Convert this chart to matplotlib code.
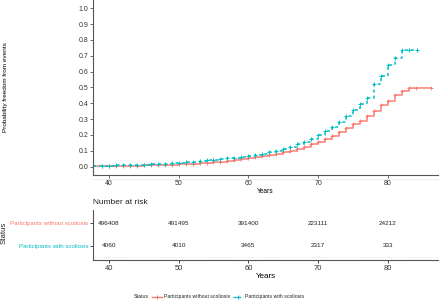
import matplotlib
matplotlib.use("Agg")
import matplotlib.pyplot as plt
from matplotlib.lines import Line2D

# ---- data ----
red_times = [37.8, 39, 40, 41, 42, 43, 44, 45, 46, 47, 48, 49, 50, 51, 52, 53, 54, 55, 56, 57,
             58, 59, 60, 61, 62, 63, 64, 65, 66, 67, 68, 69, 70, 71, 72, 73, 74, 75, 76, 77,
             78, 79, 80, 81, 82, 83, 84, 86.1]
red_vals = [0.001, 0.002, 0.003, 0.003, 0.004, 0.005, 0.006, 0.007, 0.008, 0.009, 0.011, 0.013,
            0.015, 0.017, 0.019, 0.022, 0.025, 0.028, 0.032, 0.036, 0.041, 0.046, 0.052, 0.058,
            0.065, 0.072, 0.081, 0.090, 0.101, 0.113, 0.126, 0.141, 0.157, 0.175, 0.195, 0.218,
            0.242, 0.266, 0.291, 0.322, 0.354, 0.386, 0.417, 0.452, 0.476, 0.495, 0.495, 0.495]

cyan_times = [37.8, 39, 40, 41, 42, 43, 44, 45, 46, 47, 48, 49, 50, 51, 52, 53, 54, 55, 56, 57,
              58, 59, 60, 61, 62, 63, 64, 65, 66, 67, 68, 69, 70, 71, 72, 73, 74, 75, 76, 77,
              78, 79, 80, 81, 82, 83, 84.1]
cyan_vals = [0.004, 0.005, 0.006, 0.007, 0.008, 0.009, 0.010, 0.012, 0.014, 0.016, 0.018, 0.021,
             0.024, 0.028, 0.032, 0.035, 0.039, 0.043, 0.047, 0.052, 0.057, 0.063, 0.069, 0.075,
             0.082, 0.090, 0.099, 0.110, 0.124, 0.140, 0.157, 0.176, 0.197, 0.224, 0.252, 0.279,
             0.320, 0.358, 0.394, 0.434, 0.522, 0.570, 0.641, 0.683, 0.738, 0.738, 0.738]

risk_years = [40, 50, 60, 70, 80]
risk_without = ["496408", "491495", "391400", "223111", "24212"]
risk_with = ["4060", "4010", "3465", "2317", "333"]

group_labels = ["Participants without scoliosis", "Participants with scoliosis"]
colors = ["#F8766D", "#00BFC4"]
y_ticks = [0.0, 0.1, 0.2, 0.3, 0.4, 0.5, 0.6, 0.7, 0.8, 0.9, 1.0]

plt.rcParams['font.family'] = ['Liberation Sans', 'DejaVu Sans']

fig = plt.figure(figsize=(4.4, 3.0), dpi=100)
W, H = 440.0, 300.0

# ---- main survival axes ----
ax = fig.add_axes([93/W, 1 - 175/H, 345/W, 175/H])
ax.step(red_times, red_vals, where='post', color=colors[0], lw=1.2, alpha=0.85)
ax.plot(red_times, red_vals, ls='none', marker='+', color=colors[0], ms=3.5, mew=0.7, alpha=0.85)
ax.step(cyan_times, cyan_vals, where='post', color=colors[1], lw=1.1, ls=(0, (2, 2)))
ax.plot(cyan_times, cyan_vals, ls='none', marker='+', color=colors[1], ms=3.5, mew=0.7)

ax.set_xlim(37.74, 87.16)
ax.set_ylim(-0.053, 1.052)
ax.set_xticks(risk_years)
ax.set_yticks(y_ticks)
ax.set_yticklabels([f"{v:.1f}" for v in y_ticks])
ax.tick_params(labelsize=5.0, length=2, width=0.5, pad=1.5, colors='#333333', labelcolor='#333333')
for s in ['top', 'right']:
    ax.spines[s].set_visible(False)
for s in ['left', 'bottom']:
    ax.spines[s].set_linewidth(0.8)
    ax.spines[s].set_color('#555555')
ax.set_xlabel("Years", fontsize=4.8, labelpad=1)
ax.yaxis.set_label_coords(-85/345, 0.5)
ax.set_ylabel("Probability freedom from events", fontsize=4.6)
# light dotted line just below the axis
ax.add_line(Line2D([0, 1], [-0.025, -0.025], transform=ax.transAxes, color='#cccccc',
                   lw=0.6, ls=(0, (1, 1.5)), clip_on=False))

# ---- risk table axes ----
tab = fig.add_axes([93/W, 40/H, 345/W, 50/H])
tab.set_xlim(37.74, 87.16)
tab.set_ylim(0.38, 2.59)
for x, a, b in zip(risk_years, risk_without, risk_with):
    tab.text(x, 2, a, ha='center', va='center', fontsize=4.6, color='#222222')
    tab.text(x, 1, b, ha='center', va='center', fontsize=4.6, color='#222222')
tab.set_xticks(risk_years)
tab.set_yticks([2, 1])
tab.set_yticklabels(group_labels)
for lab, c in zip(tab.get_yticklabels(), colors):
    lab.set_color(c)
tab.tick_params(axis='y', labelsize=4.4, length=2, width=0.5, pad=1.5)
tab.tick_params(axis='x', labelsize=5.4, length=2, width=0.5, pad=1.5, labelcolor='#333333')
for s in ['top', 'right']:
    tab.spines[s].set_visible(False)
for s in ['left', 'bottom']:
    tab.spines[s].set_linewidth(0.8)
    tab.spines[s].set_color('#555555')
tab.add_line(Line2D([0, 1], [0.06, 0.06], transform=tab.transAxes, color='#dddddd',
                    lw=0.6, ls=(0, (1, 1.5))))
tab.set_xlabel("Years", fontsize=5.8, labelpad=1)
fig.text(93/W, 1 - 203/H, "Number at risk", fontsize=6.0, ha='left', va='center', color='#222222')
fig.text(4/W, 1 - 233/H, "Status", fontsize=5.6, rotation=90, ha='center', va='center', color='#222222')

# ---- legend (manual) ----
ly = 1 - 296.5/H
fig.text(134/W, ly, "Status", fontsize=3.8, ha='left', va='center', color='#222222')
handle_x = [(152, 162), (233, 243)]
text_x = [164, 245]
styles = ['-', (0, (2, 1.5))]
for (x0, x1), tx, lab, c, st in zip(handle_x, text_x, group_labels, colors, styles):
    fig.add_artist(Line2D([x0/W, x1/W], [ly, ly], transform=fig.transFigure, color=c, lw=1, ls=st))
    fig.add_artist(Line2D([(x0 + x1)/2/W], [ly], transform=fig.transFigure, color=c,
                          marker='+', ms=3, mew=0.7, ls='none'))
    fig.text(tx/W, ly, lab, fontsize=3.7, ha='left', va='center', color='#222222')

fig.savefig("out.png", dpi=100)
